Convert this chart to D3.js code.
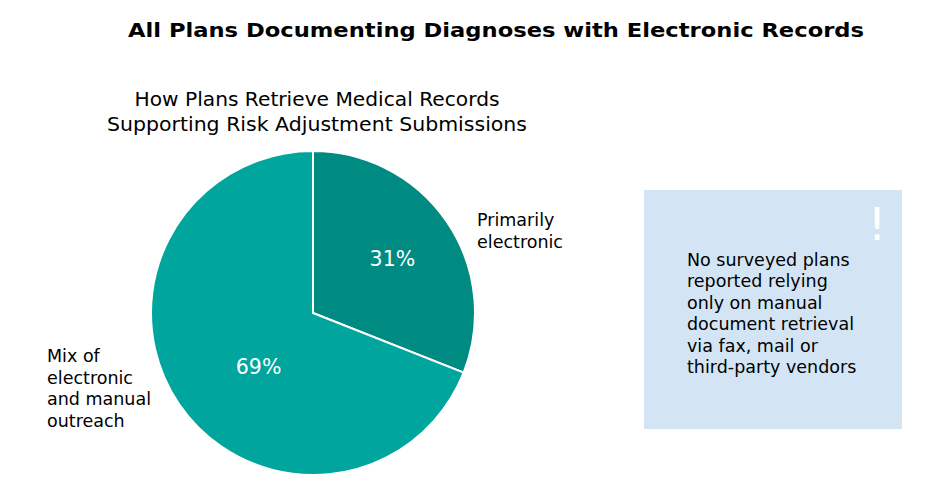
<!DOCTYPE html>
<html>
<head>
<meta charset="utf-8">
<script src="https://cdn.jsdelivr.net/npm/d3@7"></script>
<style>
  body { margin: 0; background: #fff; }
  svg { display: block; }
</style>
</head>
<body>
<svg id="chart"></svg>
<script>
// ── Data ─────────────────────────────────────────────
const categories = ['Primarily electronic', 'Mix of electronic and manual outreach'];
const shares     = [31, 69];
const labelLines = [['Primarily', 'electronic'], ['Mix of', 'electronic', 'and manual', 'outreach']];
const titleText  = 'All Plans Documenting Diagnoses with Electronic Records';
const subtitle   = ['How Plans Retrieve Medical Records', 'Supporting Risk Adjustment Submissions'];
const noteLines  = ['No surveyed plans', 'reported relying', 'only on manual',
                    'document retrieval', 'via fax, mail or', 'third-party vendors'];

const W = 943, H = 494;
const FONT = 'Verdana, "DejaVu Sans", sans-serif';
const colors = ['#008b82', '#00a59e'];

const svg = d3.select('#chart').attr('width', W).attr('height', H);

// ── Titles ───────────────────────────────────────────
svg.append('text')
  .attr('x', 496).attr('y', 37)
  .attr('text-anchor', 'middle')
  .attr('font-family', FONT).attr('font-weight', 'bold').attr('font-size', 20)
  .attr('textLength', 736).attr('lengthAdjust', 'spacingAndGlyphs')
  .attr('fill', '#000')
  .text(titleText);

const subLens = [365, 420];
subtitle.forEach((t, i) => {
  svg.append('text')
    .attr('x', 317).attr('y', 106 + i * 25)
    .attr('text-anchor', 'middle')
    .attr('font-family', FONT).attr('font-size', 19)
    .attr('textLength', subLens[i]).attr('lengthAdjust', 'spacingAndGlyphs')
    .attr('fill', '#000')
    .text(t);
});

// ── Pie ──────────────────────────────────────────────
const cx = 313, cy = 313, R = 162;
const pie = d3.pie().sort(null).value(d => d)(shares);
const arc = d3.arc().innerRadius(0).outerRadius(R);
const labelArc = d3.arc().innerRadius(96).outerRadius(96);
const pctNudge = [[0, 0], [25, 0]];   // the 69% label sits a little inward

const pieG = svg.append('g').attr('transform', `translate(${cx},${cy})`);

pieG.selectAll('path')
  .data(pie)
  .join('path')
    .attr('d', arc)
    .attr('fill', (d, i) => colors[i])
    .attr('stroke', '#fff')
    .attr('stroke-width', 2);

pieG.selectAll('text.pct')
  .data(pie)
  .join('text')
    .attr('class', 'pct')
    .attr('x', (d, i) => labelArc.centroid(d)[0] + pctNudge[i][0])
    .attr('y', (d, i) => labelArc.centroid(d)[1] + pctNudge[i][1])
    .attr('dy', '0.35em')
    .attr('text-anchor', 'middle')
    .attr('font-family', FONT).attr('font-size', 20.5)
    .attr('fill', '#fff')
    .text(d => d.data + '%');

// Category labels outside the pie
const catPos = [{ x: 477, y: 226 }, { x: 47, y: 362 }];
labelLines.forEach((lines, i) => {
  const t = svg.append('text')
    .attr('font-family', FONT).attr('font-size', 17.5)
    .attr('fill', '#000');
  lines.forEach((ln, j) => {
    t.append('tspan').attr('x', catPos[i].x).attr('y', catPos[i].y + j * 21.5).text(ln);
  });
});

// ── Note box ─────────────────────────────────────────
svg.append('rect')
  .attr('x', 644).attr('y', 190)
  .attr('width', 258).attr('height', 239)
  .attr('fill', '#d3e5f5');

svg.append('text')
  .attr('x', 877).attr('y', 240)
  .attr('text-anchor', 'middle')
  .attr('font-family', FONT).attr('font-size', 44)
  .attr('fill', '#fff')
  .text('!');

const note = svg.append('text')
  .attr('font-family', FONT).attr('font-size', 17.5)
  .attr('fill', '#000');
noteLines.forEach((ln, j) => {
  note.append('tspan').attr('x', 687).attr('y', 266 + j * 21.4).text(ln);
});
</script>
</body>
</html>
